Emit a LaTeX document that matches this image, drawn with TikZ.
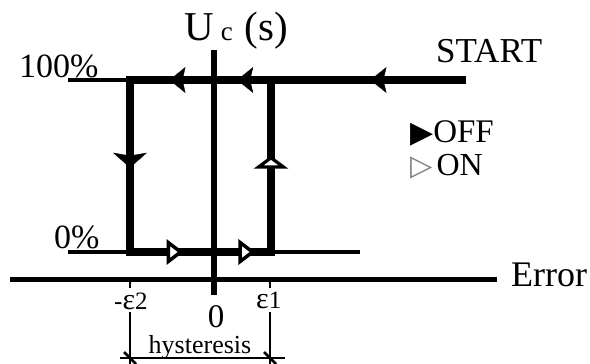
\documentclass[tikz,border=0pt]{standalone}
\usepackage{fontspec}
\setmainfont{Liberation Serif}
\newfontfamily\symfont{DejaVu Sans}
\usetikzlibrary{arrows.meta, decorations.markings}

\newcommand{\fsize}[1]{\fontsize{#1}{#1}\selectfont}

\begin{document}
\begin{tikzpicture}[
    x=1pt, y=-1pt,
    thinline/.style={line width=3.5pt},
    axisline/.style={line width=5pt},
    loopline/.style={line width=8.5pt, line join=miter},
    tickline/.style={line width=2.5pt},
    lbl/.style={inner sep=0pt, anchor=base west},
    offtip/.tip={Stealth[length=16pt, width=26pt, inset=3pt]},
    offdown/.tip={Stealth[length=15pt, width=34pt, inset=3pt]},
    ontip/.tip={Triangle[length=17pt, width=25pt, fill=white, line width=3.5pt]},
    onup/.tip={Triangle[length=13pt, width=34pt, fill=white, line width=3.5pt]}
]
\useasboundingbox (0,0) rectangle (590,364);

% Coordinates
\coordinate (hiL) at (68,80);
\coordinate (e2top) at (130,80);
\coordinate (e1top) at (271,80);
\coordinate (start) at (466,80);
\coordinate (loL) at (68,252);
\coordinate (e2bot) at (130,252);
\coordinate (e1bot) at (271,252);
\coordinate (loR) at (360,252);
\coordinate (errL) at (10,279);
\coordinate (errR) at (497,279);
\coordinate (uTop) at (214,50);
\coordinate (uBot) at (214,295);
\coordinate (e2ax) at (130,279);
\coordinate (e1ax) at (270,279);
\coordinate (e2tk) at (130,288);
\coordinate (e1tk) at (270,288);
\coordinate (e2dm) at (130,312);
\coordinate (e1dm) at (270,312);
\coordinate (e2end) at (130,364);
\coordinate (e1end) at (270,364);
\coordinate (dimL) at (120,358);
\coordinate (dimR) at (285,358);

% Axes and levels
\draw[thinline] (hiL) -- (e2top);
\draw[thinline] (loL) -- (loR);
\draw[axisline] (errL) -- (errR);
\draw[line width=6pt] (uTop) -- (uBot);

% Hysteresis loop
\draw[loopline] (start) -- (e1top) -- (e2top) -- (e2bot) -- (e1bot) -- (e1top);

% Arrow tips on the loop
\path[decorate, decoration={markings,
    mark=at position 0.49 with {\arrow{offtip}}}] (start) -- (e1top);
\path[decorate, decoration={markings,
    mark=at position 0.24 with {\arrow{offtip}},
    mark=at position 0.72 with {\arrow{offtip}}}] (e1top) -- (e2top);
\path[decorate, decoration={markings,
    mark=at position 0.51 with {\arrow{offdown}}}] (e2top) -- (e2bot);
\path[decorate, decoration={markings,
    mark=at position 0.38 with {\arrow{ontip}},
    mark=at position 0.89 with {\arrow{ontip}}}] (e2bot) -- (e1bot);
\path[decorate, decoration={markings,
    mark=at position 0.56 with {\arrow{onup}}}] (e1bot) -- (e1top);

% Hysteresis dimension
\draw[tickline] (e2ax) -- (e2tk);
\draw[tickline] (e1ax) -- (e1tk);
\draw[tickline] (e2dm) -- (e2end);
\draw[tickline] (e1dm) -- (e1end);
\draw[tickline] (dimL) -- (dimR);
\draw[tickline] ([shift={(-6,-6)}]e2dm |- dimL) -- ([shift={(6,6)}]e2dm |- dimL);
\draw[tickline] ([shift={(-6,-6)}]e1dm |- dimR) -- ([shift={(6,6)}]e1dm |- dimR);

% Labels
\node[lbl] (ulbl) at (184,41) {\fsize{41}U\hspace{7pt}{\fsize{27}c}\hspace{12pt}(s)};
\node[lbl] (startlbl) at (436,63) {\fsize{35}START};
\node[lbl] (hilbl) at (19,77) {\fsize{34}100\%};
\node[lbl] (lolbl) at (54,248) {\fsize{34}0\%};
\node[lbl] (offlbl) at (410,142) {{\symfont\fsize{30}▶}\fsize{33}OFF};
\node[lbl] (onlbl) at (410,175) {{\symfont\fsize{29}\color{gray}▷}\hspace{4pt}\fsize{32}ON};
\node[lbl] (errlbl) at (511,286) {\fsize{36}Error};
\node[lbl] (e2lbl) at (114,309) {\fsize{25}-\fsize{30}ε\fsize{25}2};
\node[lbl] (e1lbl) at (256,308) {\fsize{30}ε\fsize{25}1};
\node[lbl, anchor=base] (zerolbl) at (216,327) {\fsize{33}0};
\node[lbl, anchor=base] (hyslbl) at (200,353) {\fsize{26}hysteresis};

\end{tikzpicture}
\end{document}
